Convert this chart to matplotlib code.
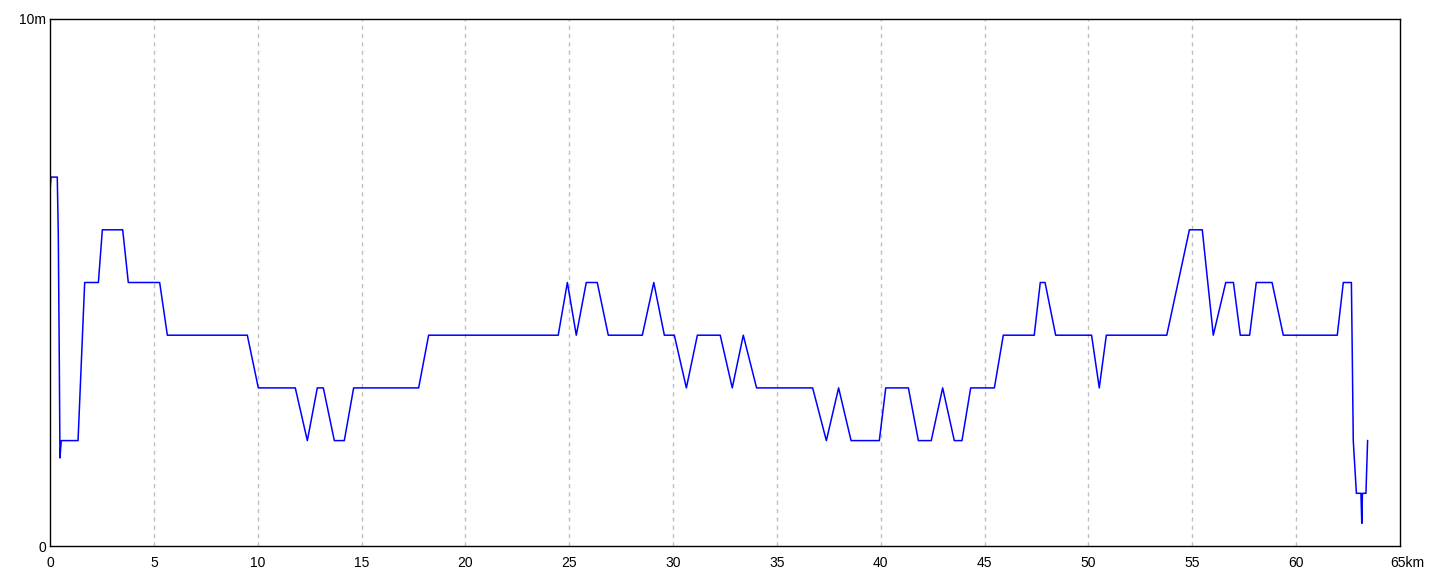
import matplotlib
matplotlib.use("Agg")
import matplotlib.pyplot as plt
import matplotlib.transforms as mtrans

# distance (km) / depth profile (m)
dist_km = [0.0, 0.05, 0.35, 0.40, 0.45, 0.48, 0.54, 1.35, 1.67, 2.33, 2.52, 3.50, 3.77,
           5.28, 5.65, 9.50, 10.03, 11.81, 12.39, 12.87, 13.16, 13.69, 14.17, 14.62,
           17.75, 18.23, 24.47, 24.91, 25.34, 25.82, 26.35, 26.88, 28.52, 29.07, 29.58,
           30.06, 30.64, 31.17, 32.27, 32.85, 33.38, 34.02, 36.72, 37.38, 37.97, 38.57,
           39.93, 40.24, 41.33, 41.81, 42.43, 42.98, 43.54, 43.91, 44.33, 45.47, 45.90,
           47.39, 47.68, 47.91, 48.42, 50.15, 50.52, 50.86, 53.77, 54.86, 55.48, 56.01,
           56.61, 56.98, 57.31, 57.76, 58.08, 58.84, 59.38, 61.98, 62.27, 62.66, 62.70,
           62.75, 62.90, 63.12, 63.16, 63.19, 63.36, 63.44]
depth_m = [6.75, 7.0, 7.0, 5.9, 3.4, 1.67, 2.0, 2.0, 5.0, 5.0, 6.0, 6.0, 5.0,
           5.0, 4.0, 4.0, 3.0, 3.0, 2.0, 3.0, 3.0, 2.0, 2.0, 3.0,
           3.0, 4.0, 4.0, 5.0, 4.0, 5.0, 5.0, 4.0, 4.0, 5.0, 4.0,
           4.0, 3.0, 4.0, 4.0, 3.0, 4.0, 3.0, 3.0, 2.0, 3.0, 2.0,
           2.0, 3.0, 3.0, 2.0, 2.0, 3.0, 2.0, 2.0, 3.0, 3.0, 4.0,
           4.0, 5.0, 5.0, 4.0, 4.0, 3.0, 4.0, 4.0, 6.0, 6.0, 4.0,
           5.0, 5.0, 4.0, 4.0, 5.0, 5.0, 4.0, 4.0, 5.0, 5.0, 3.7,
           2.0, 1.0, 1.0, 0.43, 1.0, 1.0, 2.0]

x_ticks = [0, 5, 10, 15, 20, 25, 30, 35, 40, 45, 50, 55, 60, 65]
x_labels = ['0', '5', '10', '15', '20', '25', '30', '35', '40', '45', '50', '55', '60', '65km']

plt.rcParams['font.family'] = ['Liberation Sans', 'DejaVu Sans']

fig = plt.figure(figsize=(14.4, 5.76), dpi=100)
ax = fig.add_axes([50 / 1440, 30 / 576, 1350 / 1440, 527 / 576])

# dashed vertical grid, no horizontal one
for x in x_ticks[1:-1]:
    ax.axvline(x, color='#c0c0c0', linestyle=(0, (3, 3)), linewidth=1)

ax.plot(dist_km, depth_m, color='#0000ff', linewidth=1.1)

ax.set_xlim(0, 65)
ax.set_ylim(0, 10)
ax.set_xticks(x_ticks)
ax.set_xticklabels(x_labels, fontsize=10)
ax.set_yticks([0, 10])
ax.set_yticklabels(['0', '10m'], fontsize=10)
ax.tick_params(length=0)
ax.tick_params(axis='x', pad=7)
ax.tick_params(axis='y', pad=3)

# the last label sits a bit to the right of its tick
last = ax.get_xticklabels()[-1]
last.set_transform(last.get_transform() + mtrans.ScaledTranslation(7 / 100, 0, fig.dpi_scale_trans))

for s in ax.spines.values():
    s.set_linewidth(1)
    s.set_color('black')

fig.savefig('out.png', dpi=100)
